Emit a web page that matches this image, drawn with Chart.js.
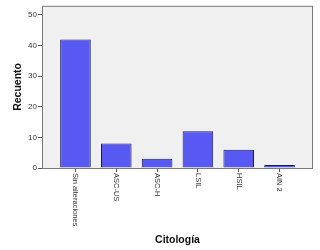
<!DOCTYPE html>
<html>
<head>
<meta charset="utf-8">
<script src="https://cdn.jsdelivr.net/npm/chart.js@4/dist/chart.umd.min.js"></script>
<style>
  html, body { margin: 0; padding: 0; background: #fff; }
</style>
</head>
<body>
<canvas id="c" width="320" height="250"></canvas>
<script>
// data
const categories = ['Sin alteraciones', 'ASC-US', 'ASC-H', 'LSIL', 'HSIL', 'AIN 2'];
const counts = [42, 8, 3, 12, 6, 1];
const yTicks = [0, 10, 20, 30, 40, 50];

const FONT = '"Liberation Sans", Arial, sans-serif';

// grey plot frame like the SPSS output
const framePlugin = {
  id: 'frame',
  beforeDraw(chart) {
    const { ctx, chartArea: a } = chart;
    ctx.save();
    ctx.fillStyle = '#f0f0f0';
    ctx.fillRect(a.left, a.top, a.right - a.left, a.bottom - a.top);
    ctx.restore();
  },
  beforeDatasetsDraw(chart) {
    const { ctx, chartArea: a } = chart;
    ctx.save();
    ctx.strokeStyle = '#7a7a7a';
    ctx.lineWidth = 1;
    ctx.strokeRect(a.left + 0.5, a.top + 0.5, a.right - a.left - 1, a.bottom - a.top);
    ctx.restore();
  },
  // x labels read top to bottom, starting at the tick
  afterDraw(chart) {
    const { ctx } = chart;
    const x = chart.scales.x;
    ctx.save();
    ctx.font = '7.5px ' + FONT;
    ctx.fillStyle = '#333';
    ctx.textAlign = 'left';
    ctx.textBaseline = 'middle';
    x.ticks.forEach((t, i) => {
      const px = x.getPixelForTick(i);
      ctx.save();
      ctx.translate(px, x.top + 5);
      ctx.rotate(Math.PI / 2);
      ctx.fillText(categories[t.value], 0, 0);
      ctx.restore();
    });
    ctx.restore();
  }
};

new Chart(document.getElementById('c'), {
  type: 'bar',
  data: {
    labels: categories,
    datasets: [{
      data: counts,
      backgroundColor: '#5858f2',
      borderColor: '#1c1c50',
      borderWidth: 1,
      categoryPercentage: 0.75,
      barPercentage: 1
    }]
  },
  options: {
    responsive: false,
    animation: false,
    devicePixelRatio: 1,
    layout: { padding: { top: 4, right: 7, left: 0, bottom: 0 } },
    plugins: { legend: { display: false }, tooltip: { enabled: false } },
    scales: {
      x: {
        offset: true,
        grid: { offset: false, drawOnChartArea: false, drawTicks: true, tickLength: 4, color: '#555' },
        border: { display: false },
        ticks: { display: false },
        afterFit: (s) => { s.height = 82; },
        afterBuildTicks: (s) => {
          // wider margin before the first and after the last bar
          s._startValue -= 0.32;
          s._valueRange += 0.64;
        },
        title: {
          display: true,
          text: 'Citología',
          color: '#111',
          font: { family: FONT, size: 10.5, weight: 'bold' },
          padding: { top: 0, bottom: 4 }
        }
      },
      y: {
        min: 0,
        max: 53,
        grid: { drawOnChartArea: false, drawTicks: true, tickLength: 4, color: '#555' },
        border: { display: false },
        afterFit: (s) => { s.width = 42; },
        afterBuildTicks: (s) => {
          s.ticks = yTicks.map(v => ({ value: v }));
        },
        ticks: {
          padding: 1,
          color: '#333',
          font: { family: FONT, size: 8 }
        },
        title: {
          display: true,
          text: 'Recuento',
          color: '#111',
          font: { family: FONT, size: 10.5, weight: 'bold' },
          padding: { top: 12, bottom: 0 }
        }
      }
    }
  },
  plugins: [framePlugin]
});
</script>
</body>
</html>
